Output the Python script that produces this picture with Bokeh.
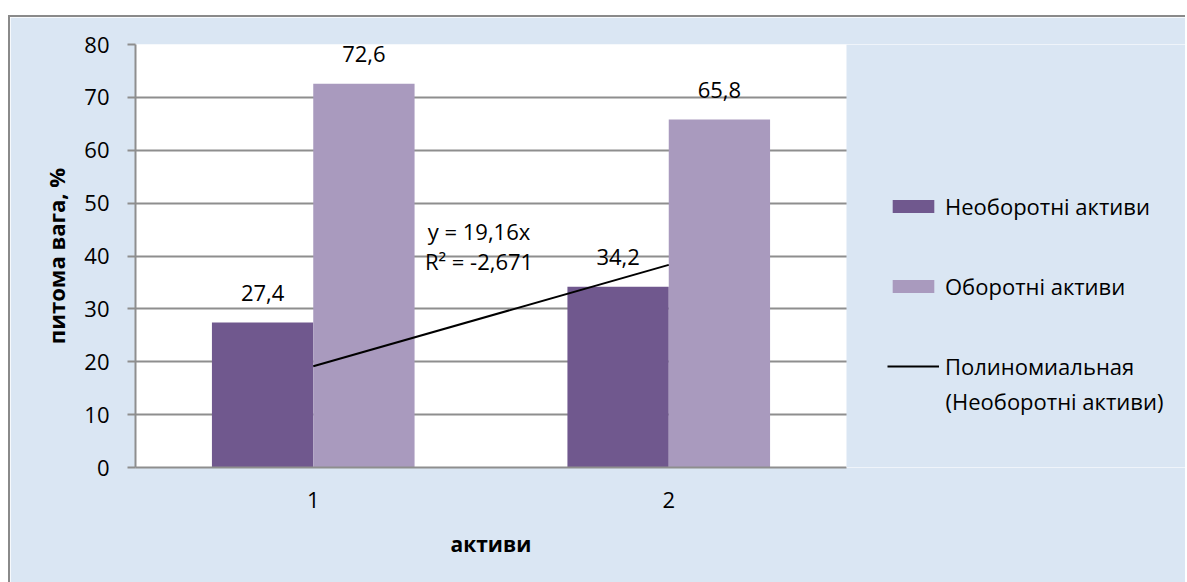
from bokeh.plotting import figure
from bokeh.models import (Range1d, Legend, LegendItem, Label, BoxAnnotation, Title,
                          ColumnDataSource, FixedTicker)
from bokeh.embed import file_html
from bokeh.resources import INLINE
from bokeh.core.properties import value

# ---- data ----
categories = ["1", "2"]
non_current = [27.4, 34.2]      # Необоротні активи
current = [72.6, 65.8]          # Оборотні активи
trend_y = [19.16, 38.32]        # polynomial trendline (y = 19,16x) at x = 1, 2
y_ticks = [0, 10, 20, 30, 40, 50, 60, 70, 80]
series_names = ["Необоротні активи", "Оборотні активи"]
trend_name = "Полиномиальная"
trend_name2 = "(Необоротні активи)"
trend_eq = "y = 19,16x"
trend_r2 = "R² = -2,671"
x_title = "активи"
y_title = "питома вага, %"

FONT = "Open Sans"
FS = "22px"
DARK = "#70588e"
LIGHT = "#a99abe"
BG = "#dae6f3"
GRID = "#8e8e8e"

def fmt(v):
    return f"{v:.1f}".replace(".", ",")

x_pos = [i + 1 for i in range(len(categories))]
bw = 0.285
src = ColumnDataSource(dict(
    x=x_pos,
    x_nc=[x - bw / 2 for x in x_pos],
    x_cu=[x + bw / 2 for x in x_pos],
    nc=non_current, cu=current,
    nc_lbl=[fmt(v) for v in non_current],
    cu_lbl=[fmt(v) for v in current],
))

# plot area: categories span 0.5 .. 2.5 (711 px); frame extends right to hold the legend
X0, X1 = 0.5, len(categories) + 0.5
px_per_unit = 711 / (X1 - X0)
x_end = X1 + (1177 - 125 - 711) / px_per_unit

p = figure(width=1177, height=565, x_range=Range1d(X0, x_end), y_range=Range1d(0, 80),
           output_backend="svg", toolbar_location=None,
           min_border_left=125, min_border_right=0, min_border_top=27,
           min_border_bottom=115, frame_height=423)
p.background_fill_color = "white"
p.border_fill_color = BG
p.outline_line_color = None
p.styles = {"border-left": "2px solid #8a8a8a", "border-top": "2px solid #8a8a8a"}
p.margin = (15, 0, 0, 8)

# mask the area right of the plot area (legend region)
p.add_layout(BoxAnnotation(left=X1, fill_color=BG, fill_alpha=1.0, line_color=None))

r1 = p.vbar(x="x_nc", top="nc", width=bw, bottom=0, source=src,
            fill_color=DARK, line_color=None)
r2 = p.vbar(x="x_cu", top="cu", width=bw, bottom=0, source=src,
            fill_color=LIGHT, line_color=None)
r3 = p.line(x=x_pos, y=trend_y, line_color="black", line_width=2)

p.text(x="x_nc", y="nc", text="nc_lbl", source=src,
       text_font=value(FONT), text_font_size=FS, text_align="center",
       text_baseline="alphabetic", y_offset=-30, text_color="black")
p.text(x="x_cu", y="cu", text="cu_lbl", source=src,
       text_font=value(FONT), text_font_size=FS, text_align="center",
       text_baseline="alphabetic", y_offset=-30, text_color="black")

p.add_layout(Label(x=1.322, y=44.8, text=trend_eq, text_font=FONT, text_font_size=FS,
                   text_baseline="middle", text_color="black"))
p.add_layout(Label(x=1.314, y=39.0, text=trend_r2, text_font=FONT, text_font_size=FS,
                   text_baseline="middle", text_color="black"))

# axes
p.yaxis.ticker = FixedTicker(ticks=y_ticks)
p.yaxis.axis_line_color = GRID
p.yaxis.axis_line_width = 2
p.yaxis.major_tick_line_color = GRID
p.yaxis.major_tick_line_width = 2
p.yaxis.major_tick_out = 8
p.yaxis.major_tick_in = 0
p.yaxis.minor_tick_line_color = None
p.yaxis.major_label_standoff = 18
p.yaxis.major_label_text_font = FONT
p.yaxis.major_label_text_font_size = FS
p.yaxis.major_label_text_color = "black"
p.yaxis.axis_label = y_title
p.yaxis.axis_label_text_font = FONT
p.yaxis.axis_label_text_font_style = "bold"
p.yaxis.axis_label_text_font_size = "22px"
p.yaxis.axis_label_text_color = "black"
p.yaxis.axis_label_standoff = 10

p.xaxis.ticker = FixedTicker(ticks=x_pos)
p.xaxis.major_label_overrides = {x: c for x, c in zip(x_pos, categories)}
p.xaxis.bounds = (X0, X1)
p.xaxis.axis_line_color = GRID
p.xaxis.axis_line_width = 2
p.xaxis.major_tick_line_color = None
p.xaxis.minor_tick_line_color = None
p.xaxis.major_tick_out = 0
p.xaxis.major_tick_in = 0
p.xaxis.major_label_standoff = 24
p.xaxis.major_label_text_font = FONT
p.xaxis.major_label_text_font_size = FS
p.xaxis.major_label_text_color = "black"

# x-axis title centred under the plot area (not the extended frame)
p.add_layout(Title(text=x_title, align="left", offset=315, standoff=35,
                   text_font=FONT, text_font_size="21px", text_font_style="bold",
                   text_color="black"), "below")

p.xgrid.grid_line_color = None
p.ygrid.grid_line_color = GRID
p.ygrid.grid_line_width = 2
p.ygrid.ticker = FixedTicker(ticks=y_ticks)

legend = Legend(items=[LegendItem(label=series_names[0], renderers=[r1]),
                       LegendItem(label=series_names[1], renderers=[r2]),
                       LegendItem(label=trend_name, renderers=[r3])],
                location=(752, 86), orientation="vertical")
legend.glyph_width = 52
legend.glyph_height = 16
legend.label_text_font = FONT
legend.label_text_font_size = FS
legend.label_text_color = "black"
legend.label_standoff = 6
legend.spacing = 50
legend.padding = 0
legend.margin = 0
legend.border_line_color = None
legend.background_fill_alpha = 0
p.add_layout(legend, "center")

p.add_layout(Label(x=X1 + (945 - 846) / px_per_unit, y=12.67, text=trend_name2,
                   text_font=FONT, text_font_size=FS,
                   text_baseline="middle", text_color="black"))

open("out.html", "w").write(file_html(p, INLINE))
